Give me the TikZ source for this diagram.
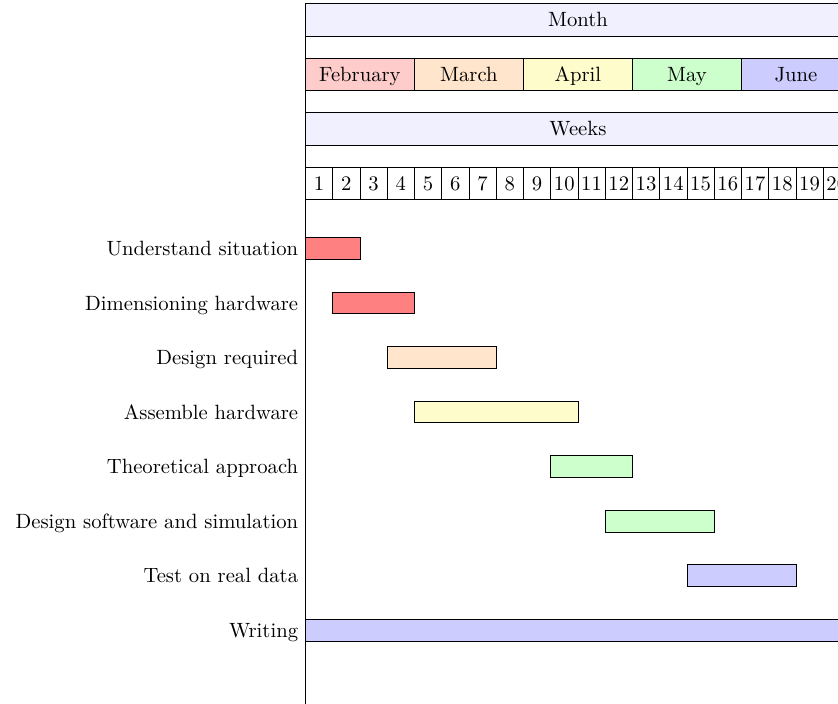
\documentclass[tikz,border=0pt]{standalone}
\begin{document}
\begin{tikzpicture}[x=0.484pt, y=-0.484pt,
  % one week is 27.25 units wide, one chart row 54.5 units high
  frameline/.style={draw=black, line width=0.4pt},
  hbox/.style={draw=black, line width=0.4pt, rectangle, inner sep=0pt,
    anchor=north west, minimum height=15.73pt, text height=8.8pt, text depth=2pt,
    minimum width=#1*13.19pt},
  hbox/.default=1,
  gbar/.style={draw=black, line width=0.4pt, rectangle, inner sep=0pt,
    anchor=west, minimum height=10.5pt, minimum width=#1*13.19pt},
  tasklabel/.style={anchor=base east, inner sep=0pt},
]
\clip (0,0) rectangle (838,703);
\useasboundingbox (0,0) rectangle (838,703);

% header rows
\node[hbox=20, fill=blue!6] (month) at (305,3.3) {Month};

\node[hbox=4, fill=red!20]    (feb) at (305,57.8)    {February};
\node[hbox=4, fill=orange!20] (mar) at (414,57.8)    {March};
\node[hbox=4, fill=yellow!20] (apr) at (523,57.8)    {April};
\node[hbox=4, fill=green!20]  (may) at (632,57.8)    {May};
\node[hbox=4, fill=blue!20]   (jun) at (741,57.8)    {June};

\node[hbox=20, fill=blue!6] (weeks) at (305,112.3) {Weeks};

\foreach \i in {1,...,20}
  \node[hbox=1, fill=white] (w\i) at ({305+(\i-1)*27.25},166.8) {\i};

% left frame
\coordinate (ftop) at (305,3.3);
\coordinate (fbot) at (305,712);
\draw[frameline] (ftop) -- (fbot);

% task bars: start x, width in weeks, row centre
\node[gbar=2, fill=red!50]    (t1) at (305,248.55)    {};
\node[gbar=3, fill=red!50]    (t2) at (332.25,303.05) {};
\node[gbar=4, fill=orange!20] (t3) at (386.75,357.55) {};
\node[gbar=6, fill=yellow!20] (t4) at (414,412.05)    {};
\node[gbar=3, fill=green!20]  (t5) at (550.25,466.55) {};
\node[gbar=4, fill=green!20]  (t6) at (604.75,521.05) {};
\node[gbar=4, fill=blue!20]   (t7) at (686.5,575.55)  {};
\node[gbar=20, fill=blue!20]  (t8) at (305,630.05)    {};

% task labels
\node[tasklabel] (l1) at (298.5,255.55) {Understand situation};
\node[tasklabel] (l2) at (298.5,310.05) {Dimensioning hardware};
\node[tasklabel] (l3) at (298.5,364.55) {Design required};
\node[tasklabel] (l4) at (298.5,419.05) {Assemble hardware};
\node[tasklabel] (l5) at (298.5,473.55) {Theoretical approach};
\node[tasklabel] (l6) at (298.5,528.05) {Design software and simulation};
\node[tasklabel] (l7) at (298.5,582.55) {Test on real data};
\node[tasklabel] (l8) at (298.5,637.05) {Writing};
\end{tikzpicture}
\end{document}
